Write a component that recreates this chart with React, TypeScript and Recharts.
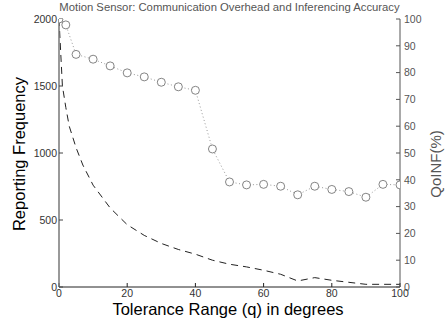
import React from 'react';
import { ComposedChart, Line, XAxis, YAxis } from 'recharts';

const freqX = [0, 1, 2, 3, 5, 7, 10, 15, 20, 25, 30, 35, 40, 45, 50, 55, 60, 65, 70, 75, 80, 85, 90, 95, 100];
const freqY = [2000, 1500, 1340, 1200, 1040, 910, 760, 590, 465, 385, 325, 280, 245, 200, 170, 150, 125, 95, 45, 70, 50, 35, 20, 20, 20];

const qoiX = [0, 2, 5, 10, 15, 20, 25, 30, 35, 40, 45, 50, 55, 60, 65, 70, 75, 80, 85, 90, 95, 100];
const qoiY = [100, 97.8, 86.8, 85, 82.5, 79.9, 78.4, 76.4, 74.7, 73.4, 51.5, 39.2, 38.1, 38.3, 37.6, 34.4, 37.6, 36.4, 35.6, 33.5, 38.3, 38.1];

const xTicks = [0, 20, 40, 60, 80, 100];
const leftTicks = [0, 500, 1000, 1500, 2000];
const rightTicks = [0, 10, 20, 30, 40, 50, 60, 70, 80, 90, 100];

const TITLE = 'Motion Sensor: Communication Overhead and Inferencing Accuracy';
const X_LABEL = 'Tolerance Range (q) in degrees';
const Y_LEFT_LABEL = 'Reporting Frequency';
const Y_RIGHT_LABEL = 'QoINF(%)';

const freqData = freqX.map((x, i) => ({ x, freq: freqY[i] }));
const qoiData = qoiX.map((x, i) => ({ x, qoi: qoiY[i] }));

const FONT = '"Liberation Sans", Arial, Helvetica, sans-serif';

const CircleDot = (props: any) => {
  const { cx, cy, index } = props;
  if (cx == null || cy == null) return null;
  return <circle key={`d-${index}`} cx={cx} cy={cy} r={4} stroke="#666" strokeWidth={0.8} fill="#fff" />;
};

export default function App() {
  return (
    <div style={{ position: 'absolute', left: 0, top: 0, width: 446, height: 326, background: '#fff' }}>
      <ComposedChart
        width={446}
        height={326}
        margin={{ top: 19, right: 14, bottom: 9, left: 14 }}
        style={{ fontFamily: FONT }}
      >
        <XAxis
          xAxisId="bottom"
          dataKey="x"
          type="number"
          domain={[0, 100]}
          ticks={xTicks}
          allowDataOverflow
          height={30}
          tickSize={-4}
          tickMargin={7}
          axisLine={{ stroke: '#222' }}
          tickLine={{ stroke: '#222' }}
          tick={{ fill: '#333', fontSize: 10.5 }}
          interval={0}
        />
        <XAxis
          xAxisId="top"
          orientation="top"
          dataKey="x"
          type="number"
          domain={[0, 100]}
          ticks={[20, 40, 60, 80]}
          allowDataOverflow
          height={0}
          tickSize={-4}
          tick={false}
          axisLine={{ stroke: '#222' }}
          tickLine={{ stroke: '#222' }}
        />
        <YAxis
          yAxisId="left"
          orientation="left"
          type="number"
          domain={[0, 2000]}
          ticks={leftTicks}
          allowDataOverflow
          width={45}
          tickSize={-4}
          tickMargin={6}
          axisLine={{ stroke: '#777', strokeWidth: 1.5 }}
          tickLine={{ stroke: '#444' }}
          tick={{ fill: '#333', fontSize: 10.5 }}
          interval={0}
        />
        <YAxis
          yAxisId="right"
          orientation="right"
          type="number"
          domain={[0, 100]}
          ticks={rightTicks}
          allowDataOverflow
          width={32}
          tickSize={-4}
          tickMargin={8}
          axisLine={{ stroke: '#555' }}
          tickLine={{ stroke: '#555' }}
          tick={{ fill: '#555', fontSize: 10.5, textAnchor: 'start' }}
          interval={0}
        />
        <Line
          xAxisId="bottom"
          yAxisId="left"
          data={freqData}
          dataKey="freq"
          type="linear"
          stroke="#222"
          strokeWidth={1}
          strokeDasharray="7 5"
          dot={false}
          activeDot={false}
          isAnimationActive={false}
        />
        <Line
          xAxisId="bottom"
          yAxisId="right"
          data={qoiData}
          dataKey="qoi"
          type="linear"
          stroke="#999"
          strokeWidth={1}
          strokeDasharray="1 2.5"
          dot={CircleDot}
          activeDot={false}
          isAnimationActive={false}
        />
        <text x={229.5} y={10.5} textAnchor="middle" fontSize={11.3} fill="#555" fontFamily={FONT}>
          {TITLE}
        </text>
        <text x={228} y={315} textAnchor="middle" fontSize={16.5} fill="#000" fontFamily={FONT}>
          {X_LABEL}
        </text>
        <text
          x={0}
          y={0}
          transform="translate(25,154) rotate(-90)"
          textAnchor="middle"
          fontSize={16.5}
          fill="#000"
          fontFamily={FONT}
        >
          {Y_LEFT_LABEL}
        </text>
        <text
          x={0}
          y={0}
          transform="translate(441,164) rotate(-90)"
          textAnchor="middle"
          fontSize={15}
          fill="#555"
          fontFamily={FONT}
        >
          {Y_RIGHT_LABEL}
        </text>
      </ComposedChart>
    </div>
  );
}
